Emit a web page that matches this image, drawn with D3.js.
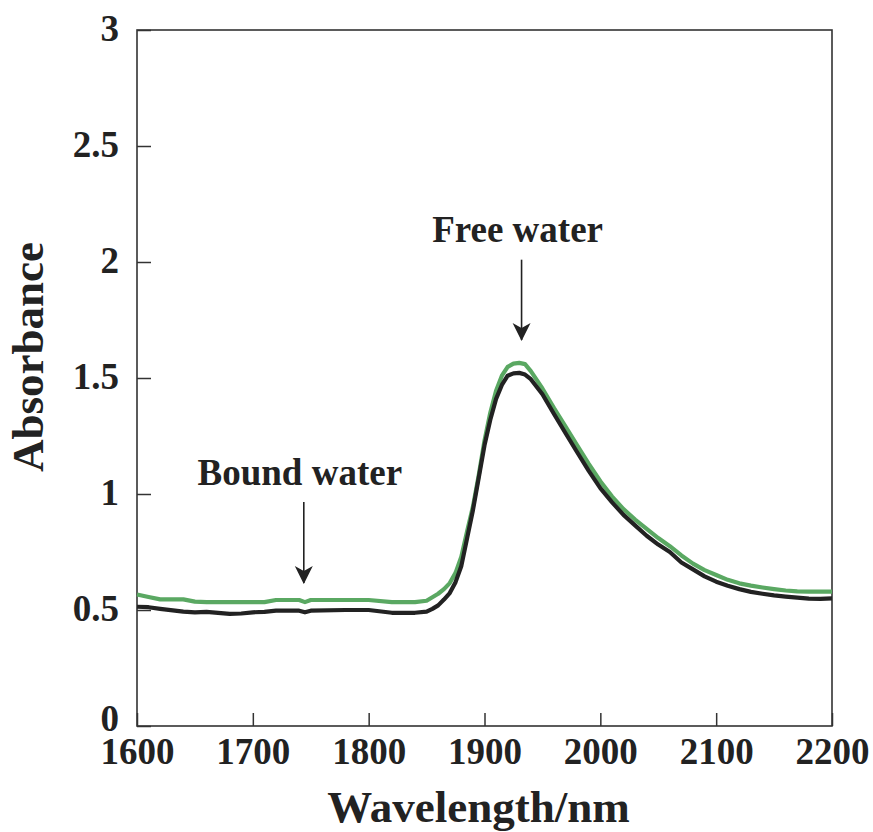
<!DOCTYPE html>
<html>
  <head>
    <meta charset="utf-8">
    <title>Absorbance spectrum</title>
    <script src="https://cdn.jsdelivr.net/npm/d3@7"></script>
    <style>
      body { margin: 0; background: #fff; }
      text { font-family: "Liberation Serif", "Times New Roman", serif; font-weight: bold; fill: #222; }
      .tick line { stroke: #333; stroke-width: 1.5; }
    </style>
  </head>

  <body>
    <svg id="chart" width="873" height="832"></svg>

    <script>
      // data
      wavelengths = [1600, 1610, 1620, 1640, 1650, 1660, 1680, 1690, 1700, 1710,
        1720, 1740, 1745, 1750, 1780, 1800, 1820, 1840, 1850, 1855,
        1860, 1865, 1870, 1875, 1880, 1885, 1890, 1895, 1900, 1905,
        1910, 1915, 1920, 1925, 1930, 1935, 1940, 1950, 1960, 1970,
        1980, 1990, 2000, 2010, 2020, 2030, 2040, 2050, 2060, 2070,
        2080, 2090, 2100, 2110, 2120, 2130, 2140, 2150, 2160, 2170,
        2180, 2190, 2200];
      blackSeries = [.514, .512, .505, .493, .490, .492, .483, .485, .490, .492,
        .497, .497, .490, .497, .500, .500, .488, .488, .493, .505,
        .520, .545, .573, .620, .690, .810, .930, 1.07, 1.21, 1.32,
        1.41, 1.47, 1.51, 1.52, 1.522, 1.515, 1.495, 1.43, 1.345, 1.262,
        1.18, 1.10, 1.025, .965, .91, .865, .82, .782, .75, .705,
        .675, .645, .622, .605, .59, .578, .57, .563, .558, .553,
        .549, .548, .55];
      greenSeries = [.567, .556, .546, .546, .536, .534, .534, .534, .534, .534,
        .543, .543, .534, .543, .543, .543, .534, .534, .540, .555,
        .570, .590, .616, .660, .730, .840, .945, 1.08, 1.23, 1.35,
        1.445, 1.51, 1.548, 1.562, 1.565, 1.56, 1.53, 1.455, 1.37, 1.29,
        1.21, 1.13, 1.055, .99, .935, .89, .85, .81, .775, .735,
        .70, .672, .651, .63, .615, .605, .597, .59, .584, .58,
        .579, .579, .579];
      xTicks = [1600, 1700, 1800, 1900, 2000, 2100, 2200];
      yTicks = [0, 0.5, 1, 1.5, 2, 2.5, 3];
      notes = [
        { label: "Free water", x: 1932, textY: 2.086, from: 2.01, to: 1.664 },
        { label: "Bound water", x: 1744, textY: 1.039, from: 0.966, to: 0.616 }
      ];

      // page elements
      chart = d3.select("#chart");
      margin = { top: 30, right: 41, bottom: 106, left: 137 };
      width = 873 - margin.left - margin.right;
      height = 832 - margin.top - margin.bottom;
      plot = chart.append("g")
        .attr("transform", "translate(" + margin.left + "," + margin.top + ")");

      x = d3.scaleLinear().domain([1600, 2200]).range([0, width]);
      y = d3.scaleLinear().domain([0, 3]).range([height, 0]);

      // axes, ticks pointing inward
      xAxis = d3.axisBottom(x)
        .tickValues(xTicks)
        .tickFormat(d3.format("d"))
        .tickSizeInner(-13)
        .tickSizeOuter(0)
        .tickPadding(12);
      yAxis = d3.axisLeft(y)
        .tickValues(yTicks)
        .tickFormat(function(d) { return d; })
        .tickSizeInner(-14)
        .tickSizeOuter(0)
        .tickPadding(18);

      plot.append("g")
        .attr("transform", "translate(0," + height + ")")
        .call(xAxis)
        .call(function(g) { g.select(".domain").remove(); })
        .selectAll("text")
          .style("font-size", "37px")
          .style("font-family", null);
      plot.append("g")
        .call(yAxis)
        .call(function(g) { g.select(".domain").remove(); })
        .selectAll("text")
          .attr("dy", function(d) { return d === 0 ? "0.12em" : "0.28em"; })
          .style("font-size", "37px")
          .style("font-family", null);

      plot.append("rect")
        .attr("width", width)
        .attr("height", height)
        .attr("fill", "none")
        .attr("stroke", "#333")
        .attr("stroke-width", 1.6);

      // spectra
      line = function(values) {
        return d3.line()
          .x(function(d, i) { return x(wavelengths[i]); })
          .y(function(d) { return y(d); })(values);
      };
      plot.append("path")
        .attr("d", line(greenSeries))
        .attr("fill", "none")
        .attr("stroke", "#5aa862")
        .attr("stroke-width", 4.2)
        .attr("stroke-linejoin", "round");
      plot.append("path")
        .attr("d", line(blackSeries))
        .attr("fill", "none")
        .attr("stroke", "#222")
        .attr("stroke-width", 4.2)
        .attr("stroke-linejoin", "round");

      // annotations with arrows
      chart.append("defs").append("marker")
        .attr("id", "head")
        .attr("markerUnits", "userSpaceOnUse")
        .attr("viewBox", "0 0 20 20")
        .attr("markerWidth", 20)
        .attr("markerHeight", 20)
        .attr("refX", 19)
        .attr("refY", 10)
        .attr("orient", "auto")
        .append("path")
          .attr("d", "M2,1 L20,10 L2,19 L7,10 Z")
          .attr("fill", "#222");

      notes.forEach(function(n) {
        plot.append("text")
          .attr("x", x(n.x) - 4)
          .attr("y", y(n.textY))
          .attr("text-anchor", "middle")
          .style("font-size", "37px")
          .text(n.label);
        plot.append("line")
          .attr("x1", x(n.x))
          .attr("x2", x(n.x))
          .attr("y1", y(n.from))
          .attr("y2", y(n.to))
          .attr("stroke", "#222")
          .attr("stroke-width", 1.6)
          .attr("marker-end", "url(#head)");
      });

      // axis titles
      chart.append("text")
        .attr("x", margin.left + width / 2 - 6)
        .attr("y", 822)
        .attr("text-anchor", "middle")
        .style("font-size", "45px")
        .text("Wavelength/nm");
      chart.append("text")
        .attr("transform", "translate(43," + 357 + ") rotate(-90)")
        .attr("text-anchor", "middle")
        .style("font-size", "45px")
        .text("Absorbance");
    </script>
  </body>
</html>
